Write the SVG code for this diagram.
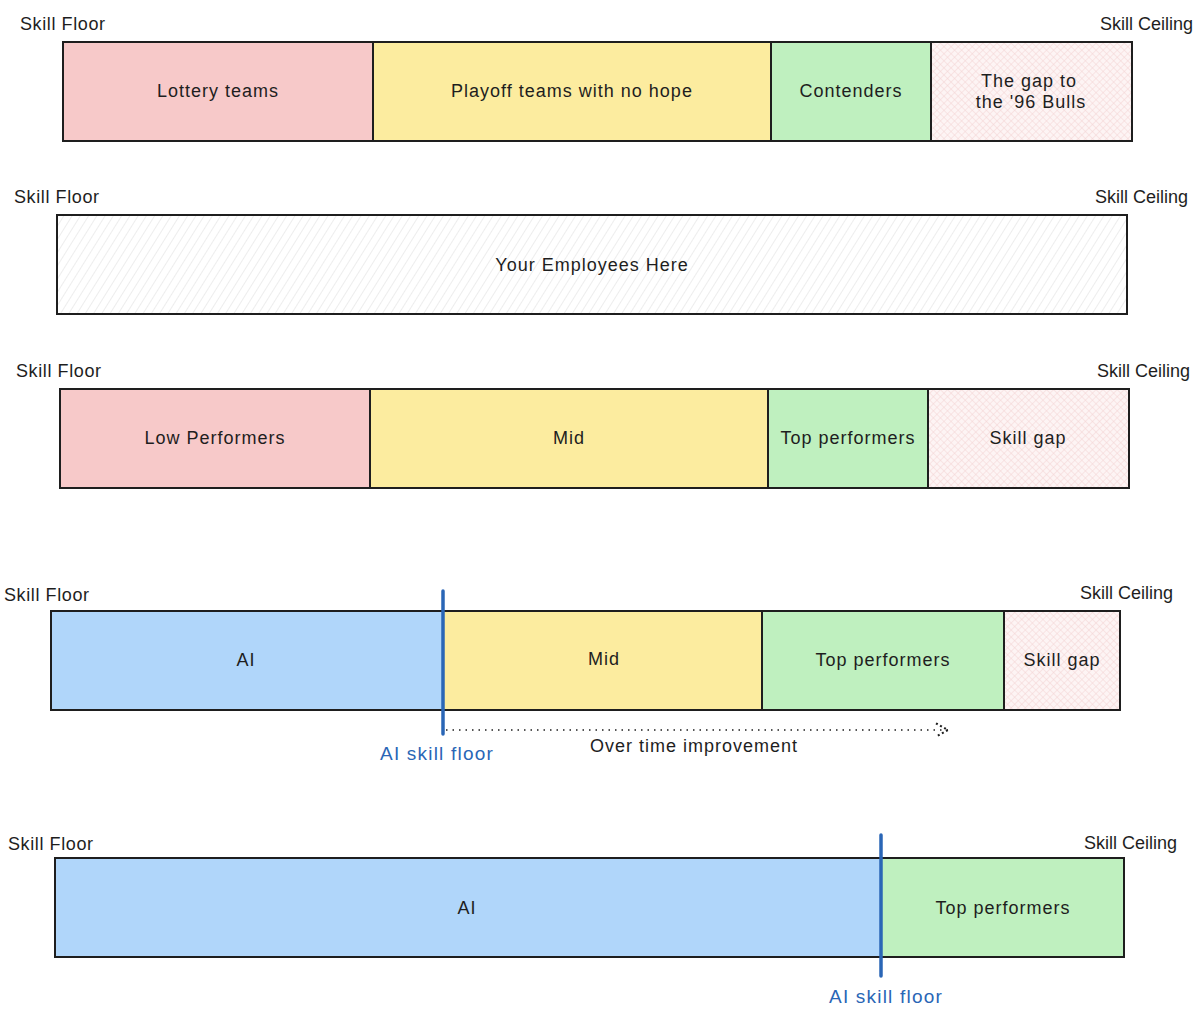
<svg xmlns="http://www.w3.org/2000/svg" width="1200" height="1016" viewBox="0 0 1200 1016">
<defs>
<pattern id="hatchGray" patternUnits="userSpaceOnUse" width="7" height="7" patternTransform="rotate(32)">
<rect width="7" height="7" fill="#ffffff"/>
<line x1="0" y1="0" x2="0" y2="7" stroke="#e2e2e2" stroke-width="1.2"/>
</pattern>
<pattern id="hatchPink" patternUnits="userSpaceOnUse" width="5" height="5" patternTransform="rotate(45)">
<rect width="5" height="5" fill="#fdf4f4"/>
<line x1="0" y1="0" x2="0" y2="5" stroke="#f3d3d3" stroke-width="1"/>
<line x1="0" y1="0" x2="5" y2="0" stroke="#f3d3d3" stroke-width="1"/>
</pattern>
<marker id="arr" viewBox="0 0 12 12" refX="10" refY="6" markerWidth="16" markerHeight="16" markerUnits="userSpaceOnUse" orient="auto">
<path d="M1,1 L10,6 L1,11" fill="none" stroke="#1e1e1e" stroke-width="1.6" stroke-dasharray="1.5 2"/>
</marker>
</defs>
<style>
.box{stroke:#1e1e1e;stroke-width:2}
.pink{fill:#f7c9c9}
.yellow{fill:#fcec9f}
.green{fill:#bff0bf}
.blue{fill:#b0d6fa}
.gap{fill:url(#hatchPink)}
.white{fill:url(#hatchGray)}
.t{font-family:"Liberation Sans","DejaVu Sans",sans-serif;font-size:18px;letter-spacing:1px;fill:#1e1e1e}
.l{font-size:18px;letter-spacing:0.6px}
.ce{letter-spacing:0px}
.c{text-anchor:middle;dominant-baseline:central}
.e{text-anchor:end}
.bl{fill:#2a66b6;font-size:19px;letter-spacing:1.2px}
.floor{stroke:#2a66b6;stroke-width:3.5;stroke-linecap:round}
</style>

<g id="row1">
<g id="r1-lottery"><rect class="box pink" x="63" y="42" width="310" height="99"/><text class="t c" x="218" y="91">Lottery teams</text></g>
<g id="r1-playoff"><rect class="box yellow" x="373" y="42" width="398" height="99"/><text class="t c" x="572" y="91">Playoff teams with no hope</text></g>
<g id="r1-contenders"><rect class="box green" x="771" y="42" width="160" height="99"/><text class="t c" x="851" y="91">Contenders</text></g>
<g id="r1-gap"><rect class="box gap" x="931" y="42" width="201" height="99"/><text class="t c" x="1029" y="81">The gap to</text><text class="t c" x="1031" y="102">the '96 Bulls</text></g>
<text class="t l" x="20" y="30">Skill Floor</text>
<text class="t l ce e" x="1193" y="30">Skill Ceiling</text>
</g>

<g id="row2">
<g id="r2-employees"><rect class="box white" x="57" y="215" width="1070" height="99"/><text class="t c" x="592" y="265">Your Employees Here</text></g>
<text class="t l" x="14" y="203">Skill Floor</text>
<text class="t l ce e" x="1188" y="203">Skill Ceiling</text>
</g>

<g id="row3">
<g id="r3-low"><rect class="box pink" x="60" y="389" width="310" height="99"/><text class="t c" x="215" y="438">Low Performers</text></g>
<g id="r3-mid"><rect class="box yellow" x="370" y="389" width="398" height="99"/><text class="t c" x="569" y="438">Mid</text></g>
<g id="r3-top"><rect class="box green" x="768" y="389" width="160" height="99"/><text class="t c" x="848" y="438">Top performers</text></g>
<g id="r3-gap"><rect class="box gap" x="928" y="389" width="201" height="99"/><text class="t c" x="1028" y="438">Skill gap</text></g>
<text class="t l" x="16" y="377">Skill Floor</text>
<text class="t l ce e" x="1190" y="377">Skill Ceiling</text>
</g>

<g id="row4">
<g id="r4-ai"><rect class="box blue" x="51" y="611" width="392" height="99"/><text class="t c" x="246" y="660">AI</text></g>
<g id="r4-mid"><rect class="box yellow" x="443" y="611" width="319" height="99"/><text class="t c" x="604" y="659">Mid</text></g>
<g id="r4-top"><rect class="box green" x="762" y="611" width="242" height="99"/><text class="t c" x="883" y="660">Top performers</text></g>
<g id="r4-gap"><rect class="box gap" x="1004" y="611" width="116" height="99"/><text class="t c" x="1062" y="660">Skill gap</text></g>
<text class="t l" x="4" y="601">Skill Floor</text>
<text class="t l ce e" x="1173" y="599">Skill Ceiling</text>
<g id="r4-floor"><line class="floor" x1="443" y1="591" x2="443" y2="734"/><text class="t c bl" x="437" y="753">AI skill floor</text></g>
<text class="t c" x="694" y="746">Over time improvement</text>
</g>

<g id="row5">
<g id="r5-ai"><rect class="box blue" x="55" y="858" width="826" height="99"/><text class="t c" x="467" y="908">AI</text></g>
<g id="r5-top"><rect class="box green" x="881" y="858" width="243" height="99"/><text class="t c" x="1003" y="908">Top performers</text></g>
<text class="t l" x="8" y="850">Skill Floor</text>
<text class="t l ce e" x="1177" y="849">Skill Ceiling</text>
<g id="r5-floor"><line class="floor" x1="881" y1="835" x2="881" y2="976"/><text class="t c bl" x="886" y="996">AI skill floor</text></g>
</g>

<g id="connectors">
<line x1="446" y1="730" x2="948" y2="730" stroke="#1e1e1e" stroke-width="1.6" stroke-dasharray="1.5 5" marker-end="url(#arr)"/>
</g>
</svg>
